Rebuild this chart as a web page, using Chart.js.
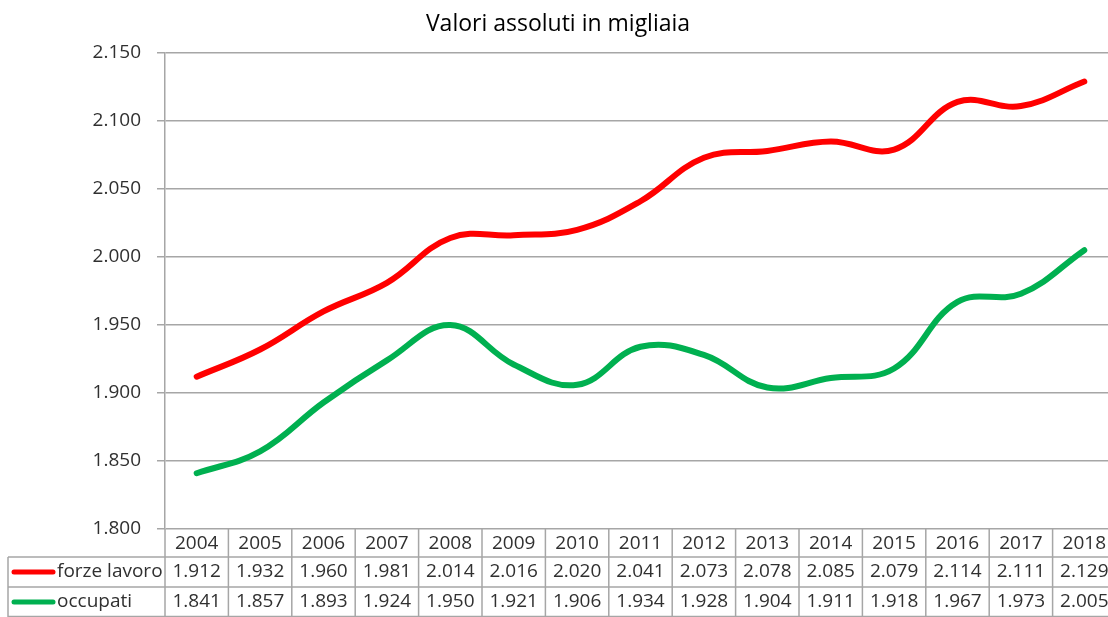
<!DOCTYPE html>
<html>
<head>
<meta charset="utf-8">
<script src="https://cdn.jsdelivr.net/npm/chart.js@4/dist/chart.umd.min.js"></script>
<style>
  html, body { margin: 0; padding: 0; background: #fff; overflow: hidden; }
  #wrap { width: 1120px; height: 617px; position: relative; }
</style>
</head>
<body>
<div id="wrap"><canvas id="c"></canvas></div>
<script>
const titleText = 'Valori assoluti in migliaia';
const years = ['2004','2005','2006','2007','2008','2009','2010','2011','2012','2013','2014','2015','2016','2017','2018'];
const seriesNames = ['forze lavoro', 'occupati'];
const forzeLavoro = [1912, 1932, 1960, 1981, 2014, 2016, 2020, 2041, 2073, 2078, 2085, 2079, 2114, 2111, 2129];
const occupati = [1841, 1857, 1893, 1924, 1950, 1921, 1906, 1934, 1928, 1904, 1911, 1918, 1967, 1973, 2005];
const yMin = 1800, yMax = 2150, yStep = 50;

const FONT = "'Open Sans', 'Noto Sans', sans-serif";
const TEXT = '#303030';
const GRID = '#a6a6a6';
const COLORS = ['#ff0000', '#00b050'];

function fmt(v) {
  const th = Math.floor(v / 1000);
  const rest = String(Math.round(v % 1000)).padStart(3, '0');
  return th + '.' + rest;
}

const tablePlugin = {
  id: 'dataTable',
  afterDraw(chart) {
    const ctx = chart.ctx;
    const x = chart.scales.x;
    const ca = chart.chartArea;
    const n = years.length;
    const colW = (ca.right - ca.left) / n;
    const rowTop = ca.bottom;
    const rowH = [28, 30, 30];
    const r1 = rowTop + rowH[0];
    const r2 = r1 + rowH[1];
    const r3 = r2 + rowH[2];
    const legendLeft = 8;
    ctx.save();
    ctx.strokeStyle = GRID;
    ctx.lineWidth = 1.5;
    ctx.beginPath();
    ctx.moveTo(legendLeft, r1); ctx.lineTo(ca.right, r1);
    ctx.moveTo(legendLeft, r2); ctx.lineTo(ca.right, r2);
    ctx.moveTo(legendLeft, r3 - 0.5); ctx.lineTo(ca.right, r3 - 0.5);
    for (let i = 0; i <= n; i++) {
      const xx = ca.left + i * colW;
      ctx.moveTo(xx, rowTop); ctx.lineTo(xx, r3);
    }
    ctx.moveTo(legendLeft, r1); ctx.lineTo(legendLeft, r3);
    ctx.stroke();

    ctx.fillStyle = TEXT;
    ctx.font = '19px ' + FONT;
    ctx.textAlign = 'center';
    ctx.textBaseline = 'middle';
    const rows = [forzeLavoro, occupati];
    for (let i = 0; i < n; i++) {
      const cx = x.getPixelForValue(i);
      ctx.fillText(years[i], cx, rowTop + rowH[0] / 2 + 1);
      ctx.fillText(fmt(rows[0][i]), cx, r1 + rowH[1] / 2);
      ctx.fillText(fmt(rows[1][i]), cx, r2 + rowH[2] / 2);
    }
    const ys = [r1 + rowH[1] / 2, r2 + rowH[2] / 2];
    for (let s = 0; s < 2; s++) {
      ctx.strokeStyle = COLORS[s];
      ctx.lineWidth = 5;
      ctx.lineCap = 'round';
      ctx.beginPath();
      ctx.moveTo(14, ys[s]); ctx.lineTo(53, ys[s]);
      ctx.stroke();
      ctx.textAlign = 'left';
      ctx.fillText(seriesNames[s], 57, ys[s]);
    }
    ctx.restore();
  }
};

new Chart(document.getElementById('c'), {
  type: 'line',
  data: {
    labels: years,
    datasets: [
      { label: seriesNames[0], data: forzeLavoro, borderColor: COLORS[0], backgroundColor: COLORS[0],
        borderWidth: 6, pointRadius: 0, tension: 0.4, borderCapStyle: 'round', fill: false },
      { label: seriesNames[1], data: occupati, borderColor: COLORS[1], backgroundColor: COLORS[1],
        borderWidth: 6, pointRadius: 0, tension: 0.4, borderCapStyle: 'round', fill: false }
    ]
  },
  options: {
    responsive: true,
    maintainAspectRatio: false,
    animation: false,
    layout: { padding: { left: 0, right: 4, top: 0, bottom: 0 } },
    plugins: {
      legend: { display: false },
      tooltip: { enabled: false },
      title: {
        display: true, text: titleText, color: '#000',
        font: { family: FONT, size: 23, weight: 'normal', lineHeight: 1.2 },
        padding: { top: 11, bottom: 14.4 }
      }
    },
    scales: {
      x: {
        offset: true,
        grid: { display: false, drawTicks: false },
        border: { display: false },
        ticks: { display: false },
        afterFit(scale) { scale.height = 88; }
      },
      y: {
        min: yMin, max: yMax,
        ticks: { stepSize: yStep, color: TEXT, padding: 16,
          font: { family: FONT, size: 19 }, callback: v => fmt(v) },
        grid: { color: GRID, lineWidth: 1.5, tickLength: 8 },
        border: { color: GRID, width: 1.5 },
        afterFit(scale) { scale.width = 165; }
      }
    }
  },
  plugins: [tablePlugin]
});
</script>
</body>
</html>
